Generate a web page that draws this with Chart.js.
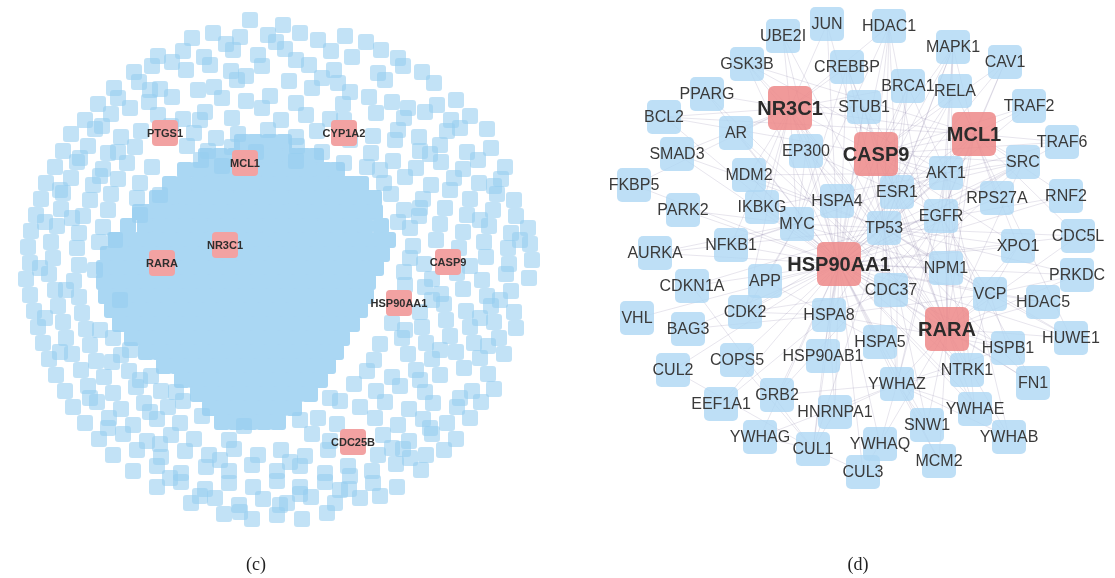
<!DOCTYPE html>
<html>
<head>
<meta charset="utf-8">
<script src="https://cdn.jsdelivr.net/npm/chart.js@4.4.0/dist/chart.umd.min.js"></script>
<style>
  html, body { margin: 0; padding: 0; background: #fff; }
  #wrap { width: 1115px; height: 578px; }
</style>
</head>
<body>
<div id="wrap"><canvas id="net" width="1115" height="578"></canvas></div>
<script>
// ---- panel (c): whole PPI cloud, layout positions ----
const cHubNames = ['PTGS1', 'CYP1A2', 'MCL1', 'NR3C1', 'RARA', 'CASP9', 'HSP90AA1', 'CDC25B'];
const cHubX = [165, 344, 245, 225, 162, 448, 399, 353];
const cHubY = [133, 133, 163, 245, 263, 262, 303, 442];

// outer, loosely packed nodes
const cOuter = [
  [250,20],[283,25],
  [192,38],[213,33],[240,37],[268,35],[300,33],[318,40],[345,36],[366,42],
  [158,56],[183,51],[204,57],[233,50],[258,55],[285,49],[331,51],[352,57],[381,50],[398,58],
  [134,72],[152,66],[186,70],[210,65],[231,71],[262,66],[309,65],[334,70],[378,73],[403,66],[422,72],
  [114,88],[139,82],[160,89],[214,87],[237,80],[289,81],[312,88],[338,83],[385,80],[434,83],
  [98,104],[118,98],[149,102],[172,97],[222,98],[246,101],[270,96],[296,103],[343,104],[369,97],[392,102],[437,105],[456,100],
  [85,120],[111,114],[158,115],[183,119],[205,112],[232,118],[281,120],[306,115],[330,119],[376,113],[404,118],[425,112],[451,120],[470,116],
  [71,134],[95,129],[121,137],[141,131],[194,133],[216,138],[268,130],[296,137],[317,131],[373,136],[398,130],[419,137],[447,131],[487,129],
  [63,151],[88,146],[108,153],[135,147],[187,146],[208,151],[232,147],[297,146],[322,152],[371,153],[420,151],[440,145],[467,152],[491,148],
  [55,167],[77,162],[103,169],[127,163],[152,167],[201,160],[222,166],[296,161],[344,163],[367,167],[393,161],[416,168],[441,162],[463,169],[505,167],
  [46,183],[71,178],[93,185],[118,179],[140,183],[384,183],[405,177],[431,185],[454,178],[479,183],[501,179],
  [41,199],[63,193],[90,200],[111,194],[137,198],[391,194],[423,199],[470,199],[497,194],[514,200],
  [36,215],[61,209],[83,216],[108,210],[404,210],[419,216],[445,208],[467,215],[493,210],[516,216],
  [31,231],[57,226],[79,233],[103,227],[410,228],[440,224],[463,232],[489,226],[511,233],[528,228],
  [28,247],[51,242],[77,248],[99,242],[413,246],[436,240],[459,248],[484,242],[508,248],[530,244],
  [30,263],[53,258],[79,265],[410,258],[424,264],[486,257],[509,264],[532,260],
  [26,279],[49,274],[74,281],[404,272],[432,279],[457,273],[482,280],[506,274],[529,278],
  [30,295],[55,290],[79,297],[425,287],[441,294],[463,289],[487,296],[511,291],
  [34,311],[58,306],[82,313],[401,306],[420,312],[444,304],[466,311],[491,306],[514,312],
  [38,327],[63,322],[86,329],[392,323],[422,327],[446,320],[470,327],[494,322],[516,328],
  [43,343],[66,338],[90,345],[113,338],[380,344],[402,338],[426,343],[450,336],[474,343],[499,338],
  [49,359],[72,354],[96,361],[121,355],[374,360],[408,354],[432,359],[456,352],[480,358],[504,354],
  [56,375],[81,370],[104,377],[129,371],[151,376],[367,371],[392,377],[416,370],[440,375],[464,368],[488,374],
  [65,391],[88,386],[113,393],[136,387],[161,391],[354,384],[376,391],[400,386],[425,392],[472,391],[494,389],
  [73,407],[97,402],[121,409],[144,403],[168,407],[183,401],[340,401],[360,407],[385,402],[409,409],[433,403],[457,407],[481,402],
  [85,423],[109,418],[133,425],[157,419],[180,423],[202,416],[318,418],[337,424],[375,418],[398,425],[423,419],[447,423],[470,418],
  [99,439],[123,434],[147,441],[171,435],[194,439],[229,440],[312,434],[330,441],[383,435],[409,441],[432,434],[456,439],
  [113,455],[137,450],[161,457],[185,451],[209,455],[234,449],[258,455],[281,450],[305,456],[328,450],[378,455],[403,449],[426,455],[444,450],
  [133,471],[157,466],[181,473],[206,467],[229,471],[252,465],[277,471],[300,466],[325,473],[348,466],[372,471],[396,464],[421,470],
  [157,487],[181,482],[205,489],[229,483],[253,487],[277,481],[300,487],[325,482],[349,489],[373,483],[397,487],
  [191,503],[215,498],[239,505],[263,499],[287,503],[311,497],[335,503],[360,498],
  [224,514],[252,519],[277,515],[302,519],[327,513]
];

// extra nodes that sit between the others and form the small clumps
const cClumps = [
  [226,44],[276,42],[172,62],[296,60],[246,76],[322,78],[198,90],[350,92],[130,108],[262,108],
  [408,108],[102,126],[171,126],[238,134],[344,120],[460,128],[80,158],[118,152],[256,152],[430,154],
  [478,160],[60,190],[100,176],[450,190],[494,186],[45,222],[72,218],[480,220],[520,240],[40,268],
  [66,290],[470,266],[500,300],[45,318],[100,330],[480,318],[60,352],[112,362],[440,350],[488,346],
  [90,398],[140,380],[420,380],[460,398],[108,428],[150,412],[430,428],[392,448],[160,444],[220,460],
  [290,462],[350,476],[410,458],[200,496],[300,494],[340,490],[240,512],[280,505],[170,478],[380,496],
  [420,208],[432,300],[405,330],[120,300],[95,270],[115,240],[140,215],[160,195],[380,170],[395,140],
  [350,140],[200,120],[150,90],[405,285],[398,222],[130,350],[176,392],[330,398],[300,420],[244,426]
];

// dense core, one row per line: [y, x, x, ...]
const cCoreRows = [
  [142, 242,255,270,284],
  [156, 206,220,235,248,262,275,290,303,316],
  [170, 185,199,214,227,240,254,269,282,295,309,324,337],
  [184, 170,184,199,212,226,239,252,267,281,294,307,321,336,349,361],
  [198, 157,171,186,199,212,226,241,254,267,281,296,309,322,336,350,363,374],
  [212, 140,152,166,180,193,207,221,235,249,263,277,291,305,319,333,347,361,375],
  [226, 128,145,160,173,186,200,215,228,241,255,270,283,296,310,325,337,350,365,381],
  [240, 116,128,142,156,170,184,198,212,226,240,254,268,282,296,310,324,338,352,366,380,388],
  [254, 108,122,136,150,164,178,192,206,220,234,248,262,276,290,304,318,332,346,360,374,382],
  [268, 104,118,132,146,160,174,188,202,216,230,244,258,272,286,300,314,328,342,356,370,376],
  [282, 104,118,132,146,160,174,188,202,216,230,244,258,272,286,300,314,328,342,356,368],
  [296, 106,120,134,148,162,176,190,204,218,232,246,260,274,288,302,316,330,344,358,366],
  [310, 112,126,140,154,168,182,196,210,224,238,252,266,280,294,308,322,336,350,360],
  [324, 120,134,148,162,176,190,204,218,232,246,260,274,288,302,316,330,344,352],
  [338, 132,146,160,174,188,202,216,230,244,258,272,286,300,314,328,342],
  [352, 146,160,174,188,202,216,230,244,258,272,286,300,314,328,336],
  [366, 164,178,192,206,220,234,248,262,276,290,304,318,328],
  [380, 182,196,210,224,238,252,266,280,294,308,320],
  [394, 198,212,226,240,254,268,282,296,310],
  [408, 210,224,238,252,266,280,294],
  [422, 222,236,250,264,278]
];

// ---- panel (d): top-ranked subnetwork ----
const dNames = [
  'JUN','HDAC1','UBE2I','MAPK1','CAV1','GSK3B','CREBBP','BRCA1','RELA','PPARG',
  'TRAF2','NR3C1','STUB1','BCL2','AR','MCL1','TRAF6','SMAD3','EP300','CASP9',
  'SRC','AKT1','MDM2','FKBP5','ESR1','RNF2','RPS27A','HSPA4','IKBKG','PARK2',
  'EGFR','MYC','TP53','CDC5L','NFKB1','XPO1','AURKA','HSP90AA1','NPM1','PRKDC',
  'APP','CDKN1A','CDC37','VCP','HDAC5','CDK2','HSPA8','VHL','BAG3','RARA',
  'HUWE1','HSPA5','HSPB1','HSP90AB1','COPS5','CUL2','NTRK1','FN1','YWHAZ','GRB2',
  'EEF1A1','YWHAE','HNRNPA1','SNW1','YWHAG','YWHAB','YWHAQ','CUL1','MCM2','CUL3'
];
const dX = [
  827, 889, 783, 953, 1005, 747, 847, 908, 955, 707,
  1029, 790, 864, 664, 736, 974, 1062, 677, 806, 876,
  1023, 946, 749, 634, 897, 1066, 997, 837, 762, 683,
  941, 797, 884, 1078, 731, 1018, 655, 839, 946, 1077,
  765, 692, 891, 990, 1043, 745, 829, 637, 688, 947,
  1071, 880, 1008, 823, 737, 673, 967, 1033, 897, 777,
  721, 975, 835, 927, 760, 1009, 880, 813, 939, 863
];
const dY = [
  24, 26, 36, 47, 62, 64, 67, 86, 91, 94,
  106, 108, 107, 117, 133, 134, 142, 154, 151, 154,
  162, 173, 175, 185, 192, 196, 198, 201, 207, 210,
  216, 224, 228, 236, 245, 246, 253, 264, 268, 275,
  281, 286, 290, 294, 302, 312, 315, 318, 329, 329,
  338, 342, 348, 356, 360, 370, 370, 383, 384, 395,
  404, 409, 412, 425, 437, 437, 444, 449, 461, 472
];
const dHubs = ['NR3C1', 'MCL1', 'CASP9', 'HSP90AA1', 'RARA'];

// interactions: [node, 'partners separated by spaces']
const dLinks = [
  ['HSP90AA1', 'TP53 CDC37 AKT1 EGFR HSPA4 HSPA8 HSPA5 HSP90AB1 NR3C1 ESR1 AR STUB1 MYC APP CDK2 NFKB1 IKBKG BAG3 CDKN1A NPM1 RARA CASP9 MCL1 SRC RELA HDAC1 HUWE1 XPO1 VCP YWHAZ YWHAE YWHAQ HNRNPA1 PARK2 AURKA FKBP5 MDM2 SMAD3 GSK3B UBE2I BRCA1 MAPK1 NTRK1 EEF1A1 GRB2 CUL1 CUL3 HSPB1 PRKDC CDC5L RNF2 TRAF2 TRAF6 VHL CUL2 SNW1 MCM2 YWHAB YWHAG FN1 HDAC5 RPS27A COPS5 BCL2 PPARG JUN CREBBP EP300 CAV1'],
  ['TP53', 'MDM2 EP300 CREBBP AKT1 ESR1 BRCA1 HDAC1 MAPK1 GSK3B UBE2I SMAD3 JUN RELA NPM1 CDK2 CDKN1A MYC HSPA8 HSPA5 YWHAZ YWHAE SNW1 PRKDC CUL1 VCP XPO1 AURKA RARA CASP9 NR3C1 MCL1 EGFR SRC HUWE1 RNF2 CDC5L FN1'],
  ['RARA', 'NR3C1 ESR1 CREBBP EP300 HDAC1 PPARG AR SRC AKT1 MAPK1 NPM1 VCP HSPB1 NTRK1 YWHAE YWHAB FN1 HDAC5 HUWE1 CDC5L PRKDC XPO1 MCM2 SNW1 CUL3 YWHAZ CASP9 MCL1'],
  ['CASP9', 'AKT1 MCL1 BCL2 ESR1 HSPA4 CDC37 RELA TRAF2 TRAF6 SRC BRCA1 MAPK1 XPO1 NR3C1 STUB1 EGFR CAV1 RPS27A HDAC1'],
  ['NR3C1', 'AR PPARG GSK3B UBE2I CREBBP EP300 STUB1 MDM2 SMAD3 BCL2 FKBP5 HSPA4 IKBKG JUN HDAC1 NFKB1 MCL1 BRCA1 CDK2 MYC'],
  ['MCL1', 'AKT1 SRC CAV1 MAPK1 TRAF2 TRAF6 RELA EGFR HUWE1 RPS27A RNF2 ESR1 XPO1 CDC5L NPM1 BCL2 GSK3B'],
  ['EGFR', 'SRC AKT1 GRB2 CAV1 MAPK1 ESR1 STUB1 CDC37 NTRK1 FN1 YWHAZ VCP'],
  ['AKT1', 'GSK3B MDM2 YWHAZ YWHAB YWHAE NFKB1 IKBKG TRAF6 MAPK1 SRC ESR1 BRCA1'],
  ['CDC37', 'CDK2 SRC HSPA8 NTRK1 IKBKG'],
  ['ESR1', 'CREBBP EP300 BRCA1 SRC MAPK1 HDAC1 NPM1 YWHAZ'],
  ['HSPA8', 'HSPA4 HSPA5 BAG3 STUB1 HSPB1 HNRNPA1 APP CDK2 EEF1A1 CUL1 VCP'],
  ['YWHAZ', 'YWHAE YWHAQ YWHAB YWHAG HSPB1 GRB2 SNW1 MCM2 HNRNPA1 NTRK1'],
  ['MYC', 'EP300 CREBBP HDAC1 NPM1 MDM2 CDK2 AURKA NFKB1 APP PARK2'],
  ['CUL1', 'CUL3 CUL2 COPS5 YWHAG HNRNPA1 CDKN1A'],
  ['VCP', 'HSPB1 HDAC5 PRKDC XPO1 NPM1 HUWE1 NTRK1']
];

// ---- rounded node sprites ----
function makeBox(size, radius, color) {
  const c = document.createElement('canvas');
  c.width = size;
  c.height = size;
  const g = c.getContext('2d');
  g.fillStyle = color;
  g.beginPath();
  g.moveTo(radius, 0);
  g.arcTo(size, 0, size, size, radius);
  g.arcTo(size, size, 0, size, radius);
  g.arcTo(0, size, 0, 0, radius);
  g.arcTo(0, 0, size, 0, radius);
  g.closePath();
  g.fill();
  return c;
}
const cBlueBox = makeBox(16, 3, 'rgba(150, 205, 240, 0.58)');
const cCoreBox = makeBox(16, 3, 'rgb(170, 215, 243)');
const cRedBox = makeBox(26, 4, 'rgb(242, 162, 162)');
const dBlueBox = makeBox(34, 5, 'rgba(176, 216, 244, 0.82)');
const dRedBox = makeBox(44, 6, 'rgba(238, 140, 140, 0.88)');

// build point lists
const cCloud = cOuter.concat(cClumps).map(p => ({ x: p[0], y: p[1] }));
const cCore = [];
cCoreRows.forEach(row => {
  row.slice(1).forEach(x => cCore.push({ x: x, y: row[0] }));
});
const cHubs = cHubNames.map((n, i) => ({ x: cHubX[i], y: cHubY[i] }));

const dPos = {};
dNames.forEach((n, i) => { dPos[n] = { x: dX[i], y: dY[i] }; });
const dBlueNames = dNames.filter(n => !dHubs.includes(n));
const dRedNames = dNames.filter(n => dHubs.includes(n));

// ---- plugins ----
const edgePlugin = {
  id: 'edges',
  beforeDatasetsDraw(chart) {
    const ctx = chart.ctx;
    const sx = chart.scales.x, sy = chart.scales.y;
    ctx.save();
    ctx.strokeStyle = 'rgba(110, 95, 145, 0.28)';
    ctx.lineWidth = 0.6;
    dLinks.forEach(([from, list]) => {
      const a = dPos[from];
      list.split(' ').forEach(to => {
        const b = dPos[to];
        if (!b) return;
        ctx.beginPath();
        ctx.moveTo(sx.getPixelForValue(a.x), sy.getPixelForValue(a.y));
        ctx.lineTo(sx.getPixelForValue(b.x), sy.getPixelForValue(b.y));
        ctx.stroke();
      });
    });
    ctx.restore();
  }
};

const labelPlugin = {
  id: 'nodeLabels',
  afterDatasetsDraw(chart) {
    const ctx = chart.ctx;
    chart.data.datasets.forEach((ds, i) => {
      if (!ds.nodeLabels) return;
      const meta = chart.getDatasetMeta(i);
      ctx.save();
      ctx.font = ds.labelFont;
      ctx.fillStyle = ds.labelColor;
      ctx.textAlign = 'center';
      ctx.textBaseline = 'middle';
      meta.data.forEach((pt, j) => ctx.fillText(ds.nodeLabels[j], pt.x, pt.y + 1));
      ctx.restore();
    });
  }
};

const captions = [
  { text: '(c)', x: 256, y: 565 },
  { text: '(d)', x: 858, y: 565 }
];
const captionPlugin = {
  id: 'captions',
  afterDraw(chart) {
    const ctx = chart.ctx;
    ctx.save();
    ctx.font = '18px "Liberation Serif", "DejaVu Serif", serif';
    ctx.fillStyle = '#222';
    ctx.textAlign = 'center';
    ctx.textBaseline = 'middle';
    captions.forEach(c => {
      ctx.fillText(c.text, chart.scales.x.getPixelForValue(c.x), chart.scales.y.getPixelForValue(c.y));
    });
    ctx.restore();
  }
};

new Chart(document.getElementById('net'), {
  type: 'scatter',
  data: {
    datasets: [
      {
        label: 'd nodes',
        data: dBlueNames.map(n => dPos[n]),
        pointStyle: dBlueBox,
        pointRadius: 17,
        order: 2,
        clip: false,
        nodeLabels: dBlueNames,
        labelFont: '16px "Liberation Sans", Arial, sans-serif',
        labelColor: '#3a3a3a'
      },
      {
        label: 'd hubs',
        data: dRedNames.map(n => dPos[n]),
        pointStyle: dRedBox,
        pointRadius: 22,
        order: 1,
        clip: false,
        nodeLabels: dRedNames,
        labelFont: 'bold 20px "Liberation Sans", Arial, sans-serif',
        labelColor: '#2b2b2b'
      },
      {
        label: 'c nodes',
        data: cCloud,
        pointStyle: cBlueBox,
        pointRadius: 8,
        order: 4,
        clip: false
      },
      {
        label: 'c core',
        data: cCore,
        pointStyle: cCoreBox,
        pointRadius: 8,
        order: 5,
        clip: false
      },
      {
        label: 'c hubs',
        data: cHubs,
        pointStyle: cRedBox,
        pointRadius: 13,
        order: 0,
        clip: false,
        nodeLabels: cHubNames,
        labelFont: 'bold 11px "Liberation Sans", Arial, sans-serif',
        labelColor: '#2e2e2e'
      }
    ]
  },
  options: {
    responsive: false,
    animation: false,
    events: [],
    layout: { padding: 0, autoPadding: false },
    plugins: {
      legend: { display: false },
      tooltip: { enabled: false }
    },
    scales: {
      x: { type: 'linear', min: 0, max: 1115, display: false },
      y: { type: 'linear', min: 0, max: 578, reverse: true, display: false }
    }
  },
  plugins: [edgePlugin, labelPlugin, captionPlugin]
});
</script>
</body>
</html>
